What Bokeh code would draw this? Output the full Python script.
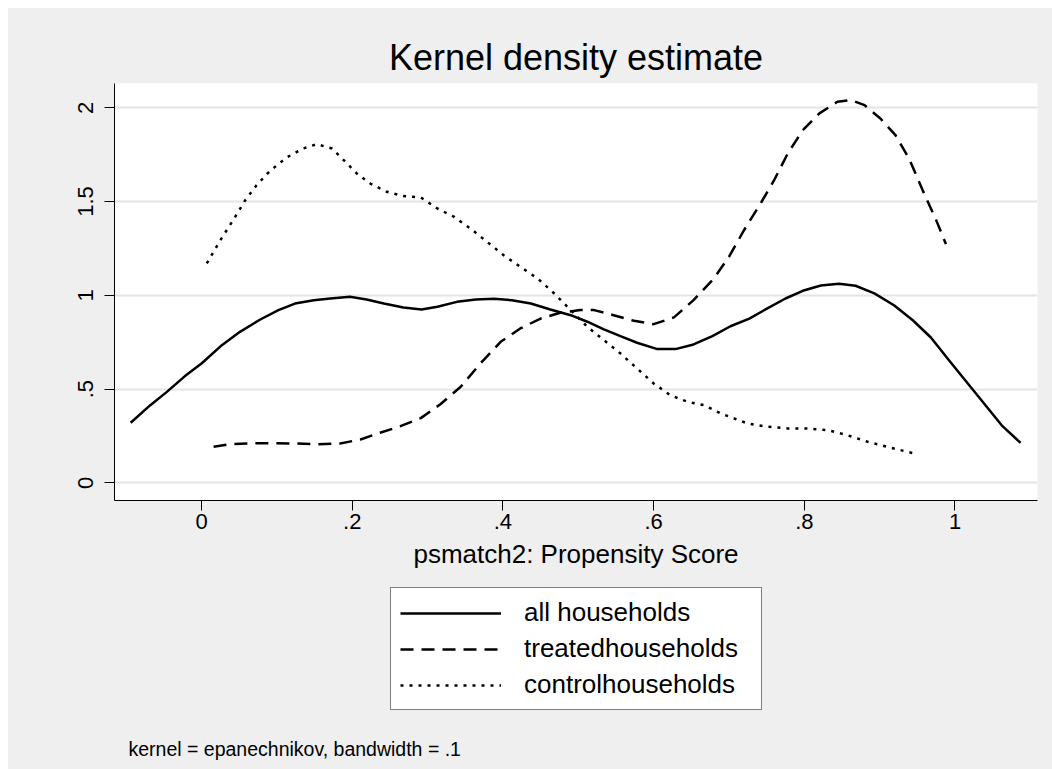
from bokeh.plotting import figure
from bokeh.layouts import column
from bokeh.models import Range1d, FixedTicker, Legend, LegendItem, Label
from bokeh.embed import file_html
from bokeh.resources import INLINE

# ---- data ----
all_x = [-0.094, -0.068, -0.046, -0.022, 0.0, 0.027, 0.051, 0.078, 0.102, 0.124,
         0.149, 0.171, 0.197, 0.219, 0.242, 0.268, 0.292, 0.313, 0.339, 0.364,
         0.388, 0.412, 0.437, 0.463, 0.490, 0.512, 0.534, 0.556, 0.578, 0.605,
         0.629, 0.653, 0.678, 0.702, 0.727, 0.751, 0.775, 0.798, 0.822, 0.846,
         0.868, 0.893, 0.919, 0.944, 0.968, 0.992, 1.017, 1.041, 1.063, 1.087]
all_y = [0.32, 0.414, 0.485, 0.569, 0.636, 0.734, 0.805, 0.871, 0.921, 0.956,
         0.974, 0.983, 0.992, 0.978, 0.956, 0.935, 0.924, 0.939, 0.965, 0.978,
         0.981, 0.974, 0.956, 0.924, 0.894, 0.859, 0.818, 0.782, 0.747, 0.713,
         0.713, 0.738, 0.782, 0.835, 0.876, 0.930, 0.983, 1.024, 1.052, 1.061,
         1.051, 1.010, 0.947, 0.867, 0.775, 0.654, 0.530, 0.411, 0.302, 0.213]

treated_x = [0.016, 0.038, 0.060, 0.091, 0.122, 0.153, 0.184, 0.211, 0.237, 0.264,
             0.291, 0.317, 0.344, 0.370, 0.397, 0.423, 0.450, 0.476, 0.503, 0.521,
             0.547, 0.574, 0.600, 0.627, 0.653, 0.680, 0.700, 0.720, 0.742, 0.760,
             0.778, 0.798, 0.820, 0.844, 0.862, 0.880, 0.901, 0.921, 0.939, 0.957,
             0.975, 0.988]
treated_y = [0.192, 0.206, 0.210, 0.211, 0.210, 0.206, 0.210, 0.231, 0.267, 0.302,
             0.345, 0.419, 0.512, 0.636, 0.752, 0.823, 0.876, 0.907, 0.921, 0.921,
             0.894, 0.864, 0.846, 0.882, 0.974, 1.090, 1.205, 1.347, 1.490, 1.614,
             1.756, 1.881, 1.970, 2.032, 2.041, 2.014, 1.943, 1.854, 1.730, 1.561,
             1.401, 1.273]

control_x = [0.007, 0.025, 0.042, 0.058, 0.073, 0.091, 0.113, 0.135, 0.153, 0.173,
             0.191, 0.206, 0.224, 0.246, 0.268, 0.291, 0.313, 0.335, 0.357, 0.379,
             0.401, 0.423, 0.446, 0.468, 0.490, 0.512, 0.534, 0.556, 0.578, 0.600,
             0.622, 0.645, 0.667, 0.689, 0.725, 0.751, 0.778, 0.804, 0.831, 0.857,
             0.884, 0.910, 0.937, 0.950]
control_y = [1.170, 1.294, 1.401, 1.507, 1.587, 1.664, 1.735, 1.783, 1.806, 1.783,
             1.712, 1.650, 1.596, 1.552, 1.529, 1.522, 1.463, 1.419, 1.356, 1.285,
             1.214, 1.152, 1.090, 1.010, 0.921, 0.832, 0.761, 0.690, 0.610, 0.530,
             0.467, 0.432, 0.414, 0.370, 0.316, 0.299, 0.290, 0.290, 0.281, 0.254,
             0.219, 0.192, 0.165, 0.153]

series_labels = ["all households", "treatedhouseholds", "controlhouseholds"]
x_ticks = [0, 0.2, 0.4, 0.6, 0.8, 1]
x_tick_labels = ["0", ".2", ".4", ".6", ".8", "1"]
y_ticks = [0, 0.5, 1, 1.5, 2]
y_tick_labels = ["0", ".5", "1", "1.5", "2"]

title_text = "Kernel density estimate"
x_title = "psmatch2: Propensity Score"
note_text = "kernel = epanechnikov, bandwidth = .1"

FONT = "Liberation Sans"
BG = "#efefef"
STYLES = [dict(line_dash="solid"), dict(line_dash="13 8"), dict(line_dash="3 6")]

# ---------------- main plot ----------------
p = figure(width=1044, height=572, output_backend="svg", toolbar_location=None,
           x_range=Range1d(-0.1155, 1.1095), y_range=Range1d(-0.0944, 2.1296),
           min_border_left=106, min_border_right=15, min_border_top=75,
           min_border_bottom=80)
p.border_fill_color = None
p.background_fill_color = "white"
p.outline_line_color = None

p.title.text = title_text
p.title.align = "center"
p.title.text_font = FONT
p.title.text_font_size = "36px"
p.title.text_font_style = "normal"
p.title.text_color = "black"
p.title.standoff = 12

for ax in (p.xaxis[0], p.yaxis[0]):
    ax.axis_line_color = "black"
    ax.axis_line_width = 1
    ax.major_tick_line_color = "black"
    ax.major_tick_out = 10
    ax.major_tick_in = 0
    ax.minor_tick_line_color = None
    ax.major_label_text_font = FONT
    ax.major_label_text_font_size = "22px"
    ax.major_label_text_color = "black"

p.xaxis.ticker = FixedTicker(ticks=x_ticks)
p.xaxis.major_label_overrides = {t: l for t, l in zip(x_ticks, x_tick_labels)}
p.xaxis.major_label_standoff = 3
p.xaxis.axis_label = x_title
p.xaxis.axis_label_text_font = FONT
p.xaxis.axis_label_text_font_size = "26px"
p.xaxis.axis_label_text_font_style = "normal"
p.xaxis.axis_label_text_color = "black"
p.xaxis.axis_label_standoff = 7

p.yaxis.ticker = FixedTicker(ticks=y_ticks)
p.yaxis.major_label_overrides = {t: l for t, l in zip(y_ticks, y_tick_labels)}
p.yaxis.major_label_orientation = "vertical"
p.yaxis.major_label_standoff = 11

p.xgrid.grid_line_color = None
p.ygrid.ticker = FixedTicker(ticks=y_ticks)
p.ygrid.grid_line_color = "#e4e4e4"
p.ygrid.grid_line_width = 2

for xs, ys, st in zip([all_x, treated_x, control_x],
                      [all_y, treated_y, control_y], STYLES):
    p.line(xs, ys, line_color="black", line_width=2.5, **st)

# ---------------- legend + note strip ----------------
q = figure(width=1044, height=189, output_backend="svg", toolbar_location=None,
           x_range=Range1d(0, 923), y_range=Range1d(0, 189),
           min_border_left=106, min_border_right=15, min_border_top=0,
           min_border_bottom=0)
q.border_fill_color = None
q.background_fill_color = None
q.outline_line_color = None
q.axis.visible = False
q.grid.visible = False

items = []
for lab, st in zip(series_labels, STYLES):
    r = q.line([float("nan")], [float("nan")], line_color="black",
               line_width=2.5, **st)
    items.append(LegendItem(label=lab, renderers=[r]))

legend = Legend(items=items, location=(276, 59), orientation="vertical",
                glyph_width=101, glyph_height=30, label_height=30,
                label_width=228, label_standoff=23, spacing=5, padding=9,
                margin=0, label_text_font=FONT, label_text_font_size="26px",
                label_text_color="black",
                border_line_color="black", border_line_width=1,
                background_fill_color="white", background_fill_alpha=1)
q.add_layout(legend, "center")

q.add_layout(Label(x=14, y=21, x_units="screen", y_units="screen",
                   text=note_text, text_align="left",
                   text_baseline="alphabetic", text_font=FONT,
                   text_font_size="19.5px", text_color="black"))

layout = column(p, q, spacing=0, margin=(8, 0, 0, 8),
                styles={"background-color": BG})
open("out.html", "w").write(file_html(layout, INLINE))
